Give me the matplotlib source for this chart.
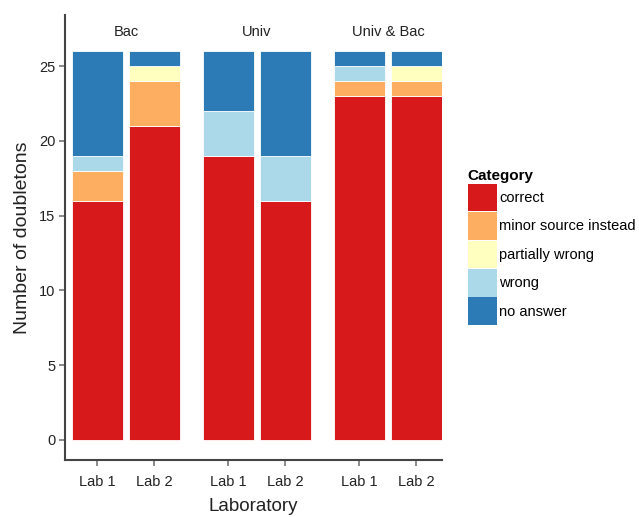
import matplotlib
matplotlib.use("Agg")
import matplotlib.pyplot as plt
from matplotlib.patches import Patch

plt.rcParams['font.family'] = ['Liberation Sans', 'DejaVu Sans']

groups = ["Bac", "Univ", "Univ & Bac"]
labs = ["Lab 1", "Lab 2"]
categories = ["correct", "minor source instead", "partially wrong", "wrong", "no answer"]
colors = ["#D7191C", "#FDAE61", "#FFFFBF", "#ABD9E9", "#2C7BB6"]

# one value per bar: Bac L1, Bac L2, Univ L1, Univ L2, U&B L1, U&B L2
correct = [16, 21, 19, 16, 23, 23]
minor = [2, 3, 0, 0, 1, 1]
partial = [0, 1, 0, 0, 0, 1]
wrong = [1, 0, 3, 3, 1, 0]
no_answer = [7, 1, 4, 7, 1, 1]
series = [correct, minor, partial, wrong, no_answer]

fig = plt.figure(figsize=(6.39, 5.17), dpi=100)
ax = fig.add_axes([65/639, 1 - 460/517, (442 - 65)/639, (460 - 15)/517])

gap = 0.298
xpos = []
for g in range(len(groups)):
    for l in range(len(labs)):
        xpos.append(g * (2 + gap) + l)

bottom = [0] * len(xpos)
for vals, col, name in zip(series, colors, categories):
    ax.bar(xpos, vals, width=0.895, bottom=bottom, color=col, edgecolor="white", linewidth=0.6, label=name)
    bottom = [b + v for b, v in zip(bottom, vals)]

ax.set_xlim(-0.570, xpos[-1] + 0.4475)
ax.set_ylim(-1.337, 28.41)
ax.set_yticks([0, 5, 10, 15, 20, 25])
ax.set_xticks(xpos)
ax.set_xticklabels(labs * len(groups))

for g, name in enumerate(groups):
    ax.text(g * (2 + gap) + 0.5, 27.25, name, ha="center", va="center", fontsize=10.5, color="#222222")

for s in ["top", "right"]:
    ax.spines[s].set_visible(False)
for s in ["left", "bottom"]:
    ax.spines[s].set_color("#444444")
    ax.spines[s].set_linewidth(1.5)
ax.tick_params(axis="both", colors="#777777", labelcolor="#222222", labelsize=10.5, length=4.5, width=1.2)
ax.tick_params(axis="x", pad=6)
ax.tick_params(axis="y", pad=2.5)

ax.set_xlabel("Laboratory", fontsize=13.5, color="#222222", labelpad=7)
ax.set_ylabel("Number of doubletons", fontsize=14, color="#222222", labelpad=6)

handles = [Patch(facecolor=c, edgecolor="none") for c in colors]
leg = fig.legend(handles, categories, title="Category", loc="upper left",
                 bbox_to_anchor=(462/639, 1 - 163/517), frameon=False, fontsize=10.5,
                 handlelength=2.0, handleheight=2.55, labelspacing=0.05,
                 handletextpad=0.15, borderaxespad=0, alignment="left")
leg.get_title().set_fontweight("bold")
leg.get_title().set_fontsize(11)

fig.savefig("out.png", dpi=100)
